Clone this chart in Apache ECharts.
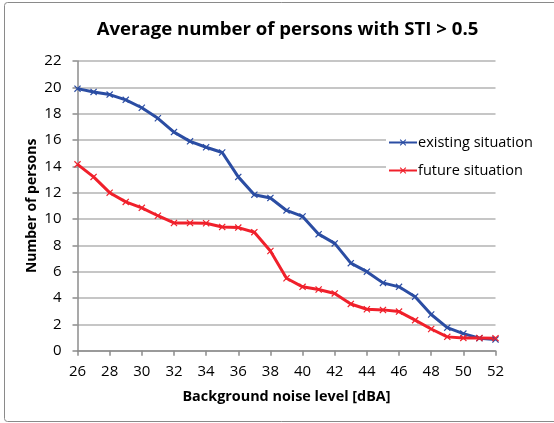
<!DOCTYPE html>
<html>
<head>
<meta charset="utf-8">
<script src="https://cdn.jsdelivr.net/npm/echarts@6/dist/echarts.min.js"></script>
<style>
html,body{margin:0;padding:0;background:#fff;}
#chart{width:554px;height:423px;}
</style>
</head>
<body>
<div id="chart"></div>
<script>
var noiseLevels = [26,27,28,29,30,31,32,33,34,35,36,37,38,39,40,41,42,43,44,45,46,47,48,49,50,51,52];
var existingSituation = [19.9,19.65,19.45,19.05,18.45,17.65,16.6,15.9,15.45,15.05,13.2,11.85,11.6,10.65,10.2,8.85,8.15,6.65,6.0,5.15,4.85,4.1,2.75,1.75,1.3,0.95,0.85];
var futureSituation = [14.15,13.2,12.0,11.3,10.85,10.25,9.7,9.7,9.68,9.4,9.35,9.0,7.57,5.5,4.85,4.65,4.35,3.55,3.15,3.1,2.97,2.32,1.65,1.05,0.97,0.96,0.95];
var seriesNames = ['existing situation','future situation'];
var titleText = 'Average number of persons with STI > 0.5';
var xTitle = 'Background noise level [dBA]';
var yTitle = 'Number of persons';

var FONT = 'Open Sans';
var crossPath = 'path://M0,1.2L1.2,0L5,3.8L8.8,0L10,1.2L6.2,5L10,8.8L8.8,10L5,6.2L1.2,10L0,8.8L3.8,5Z';

function pairs(vals){ return noiseLevels.map(function(x,i){ return [x, vals[i]]; }); }

var chart = echarts.init(document.getElementById('chart'), null, {renderer:'canvas'});
chart.setOption({
  animation:false,
  backgroundColor:'#fff',
  title:{
    text:titleText, left:282.5, top:15, textAlign:'center',
    textStyle:{fontFamily:FONT, fontWeight:'bold', fontSize:18.6, color:'#000'}
  },
  graphic:[{
    type:'rect', shape:{x:4.5, y:2.5, width:560, height:419, r:3},
    style:{fill:'none', stroke:'#8a8a8a', lineWidth:1}, silent:true, z:-10
  }],
  legend:{
    orient:'vertical', left:386, top:132, itemGap:11,
    itemWidth:28, itemHeight:8, padding:[2,4,2,2],
    backgroundColor:'#fff',
    textStyle:{fontFamily:FONT, fontSize:14.5, lineHeight:17, color:'#000', padding:[0,0,0,-4]},
    data:seriesNames
  },
  grid:{left:77.5, right:58.5, top:61, bottom:72.3, containLabel:false},
  xAxis:{
    type:'value', min:26, max:52, interval:2,
    name:xTitle, nameLocation:'middle', nameGap:39, nameMoveOverlap:false,
    nameTextStyle:{fontFamily:FONT, fontWeight:'bold', fontSize:14.4, color:'#000'},
    axisLine:{lineStyle:{color:'#8c8c8c', width:1.5}},
    axisTick:{show:true, length:5, lineStyle:{color:'#8c8c8c', width:1.5}},
    axisLabel:{fontFamily:FONT, fontSize:15, color:'#000', margin:14},
    splitLine:{show:false}
  },
  yAxis:{
    type:'value', min:0, max:22, interval:2,
    name:yTitle, nameLocation:'middle', nameGap:38, nameMoveOverlap:false,
    nameTextStyle:{fontFamily:FONT, fontWeight:'bold', fontSize:14, color:'#000'},
    axisLine:{show:true, lineStyle:{color:'#8c8c8c', width:1.5}},
    axisTick:{show:true, length:5, lineStyle:{color:'#8c8c8c', width:1.5}},
    axisLabel:{fontFamily:FONT, fontSize:15, color:'#000', margin:16},
    splitLine:{show:true, lineStyle:{color:'#b3b3b3', width:1.5}}
  },
  series:[
    {
      name:seriesNames[0], type:'line', data:pairs(existingSituation),
      lineStyle:{color:'#2B4DA3', width:3},
      itemStyle:{color:'#2B4DA3'},
      symbol:crossPath, symbolSize:7, showSymbol:true
    },
    {
      name:seriesNames[1], type:'line', data:pairs(futureSituation),
      lineStyle:{color:'#F0202B', width:3},
      itemStyle:{color:'#F0202B'},
      symbol:crossPath, symbolSize:7, showSymbol:true
    }
  ]
});
</script>
</body>
</html>
